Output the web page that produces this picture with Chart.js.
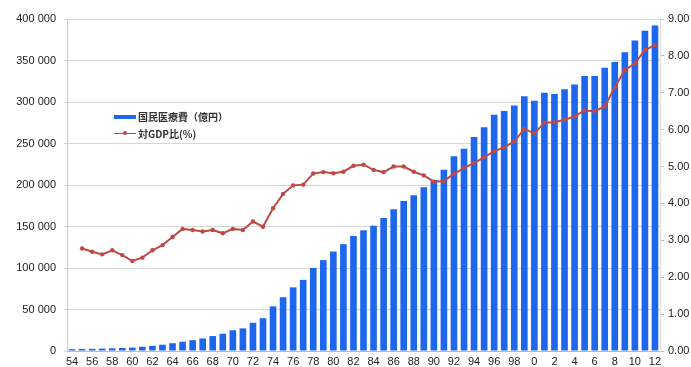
<!DOCTYPE html>
<html>
<head>
<meta charset="utf-8">
<script src="https://cdn.jsdelivr.net/npm/chart.js@4"></script>
<style>
  html, body { margin: 0; padding: 0; background: #fff; }
  #wrap { position: relative; width: 691px; height: 367px; }
  #legend { position: absolute; left: 114px; top: 108px; font-family: "Noto Sans CJK JP", "Liberation Sans", sans-serif; font-size: 10px; color: #333; font-weight: bold; }
  .item { display: flex; align-items: center; height: 17px; }
  .sw { width: 22px; height: 12px; position: relative; margin-right: 2px; }
</style>
</head>
<body>
<div id="wrap">
  <canvas id="c" width="691" height="367"></canvas>
  <div id="legend"></div>
</div>
<script>
// categories (years 1954-2012, shown as two-digit / short labels)
const years = ["54","55","56","57","58","59","60","61","62","63","64","65","66","67","68","69",
  "70","71","72","73","74","75","76","77","78","79","80","81","82","83","84","85","86","87","88","89",
  "90","91","92","93","94","95","96","97","98","99","0","1","2","3","4","5","6","7","8","9","10","11","12"];

// 国民医療費（億円）
const expenditure = [2152,2388,2583,2897,3230,3625,4095,5130,6132,7541,9389,11224,13002,15116,18016,20780,
  24962,27250,33994,39496,53786,64779,76684,85686,100042,109510,119805,128709,138659,145438,150932,160159,
  170690,180759,187554,197290,206074,218260,234784,243631,257908,269577,284542,289149,295823,307019,
  301418,310998,309507,315375,321111,331289,331276,341360,348084,360067,374202,385850,392117];

// 対GDP比（%）
const gdpRatio = [null,2.78,2.69,2.62,2.73,2.60,2.44,2.53,2.73,2.87,3.09,3.31,3.28,3.24,3.28,3.19,
  3.31,3.28,3.51,3.37,3.87,4.26,4.49,4.51,4.81,4.85,4.82,4.86,5.02,5.05,4.91,4.85,
  5.00,5.00,4.86,4.76,4.59,4.61,4.80,4.96,5.10,5.25,5.42,5.52,5.68,6.02,
  5.90,6.19,6.20,6.27,6.36,6.52,6.50,6.63,7.15,7.61,7.79,8.16,8.29];

// tick values
const leftTicks = [0,50000,100000,150000,200000,250000,300000,350000,400000];
const rightTicks = [0,1,2,3,4,5,6,7,8,9];

const seriesNames = ["国民医療費（億円）", "対GDP比(%)"];
const barColor = "#1d66ee";
const lineColor = "#bd4a47";

function fmtThousands(v) {
  return String(v).replace(/\B(?=(\d{3})+(?!\d))/g, " ");
}

const tickFont = { family: "'Liberation Sans', Arial, sans-serif", size: 11 };

new Chart(document.getElementById("c"), {
  data: {
    labels: years,
    datasets: [
      {
        type: "line", label: seriesNames[1], data: gdpRatio, yAxisID: "y1",
        borderColor: lineColor, backgroundColor: lineColor, borderWidth: 2,
        pointRadius: 2.2, pointBackgroundColor: lineColor, pointBorderWidth: 0,
        tension: 0, order: 0, spanGaps: false
      },
      {
        type: "bar", label: seriesNames[0], data: expenditure, yAxisID: "y",
        backgroundColor: barColor, borderWidth: 0,
        categoryPercentage: 1.0, barPercentage: 0.66, order: 1
      }
    ]
  },
  options: {
    responsive: false,
    animation: false,
    layout: { padding: { top: 19, left: 0, right: 0, bottom: 0 } },
    plugins: { legend: { display: false }, tooltip: { enabled: false } },
    scales: {
      x: {
        offset: true,
        grid: { display: false, drawTicks: false },
        border: { display: true, color: "#bbb" },
        ticks: {
          autoSkip: false, maxRotation: 0, minRotation: 0, padding: 4,
          color: "#222", font: tickFont,
          callback: function (v, i) { return i % 2 === 0 ? years[i] : ""; }
        },
        afterFit: function (s) { s.height = 16; }
      },
      y: {
        position: "left", min: 0, max: 400000,
        afterBuildTicks: function (s) { s.ticks = leftTicks.map(v => ({ value: v })); },
        grid: { color: "#d6d6d6", tickLength: 3, lineWidth: 1 },
        border: { display: true, color: "#ccc" },
        ticks: { color: "#222", font: tickFont, padding: 8, callback: v => fmtThousands(v) },
        afterFit: function (s) { s.width = 67; }
      },
      y1: {
        position: "right", min: 0, max: 9,
        afterBuildTicks: function (s) { s.ticks = rightTicks.map(v => ({ value: v })); },
        grid: { drawOnChartArea: false, color: "#bbb", tickLength: 4 },
        border: { display: true, color: "#ddd" },
        ticks: { color: "#222", font: tickFont, padding: 4, callback: v => Number(v).toFixed(2) },
        afterFit: function (s) { s.width = 31; }
      }
    }
  }
});

// HTML legend built from series names
const lg = document.getElementById("legend");
seriesNames.forEach(function (name, i) {
  const item = document.createElement("div");
  item.className = "item";
  const sw = document.createElement("div");
  sw.className = "sw";
  if (i === 0) {
    sw.innerHTML = '<div style="position:absolute;left:0;top:4px;width:22px;height:4px;background:' + barColor + '"></div>';
  } else {
    sw.innerHTML = '<div style="position:absolute;left:0;top:5px;width:22px;height:1.5px;background:' + lineColor + '"></div>' +
      '<div style="position:absolute;left:9px;top:3.5px;width:4px;height:4px;border-radius:2px;background:' + lineColor + '"></div>';
  }
  const t = document.createElement("span");
  t.textContent = name;
  item.appendChild(sw);
  item.appendChild(t);
  lg.appendChild(item);
});
</script>
</body>
</html>
